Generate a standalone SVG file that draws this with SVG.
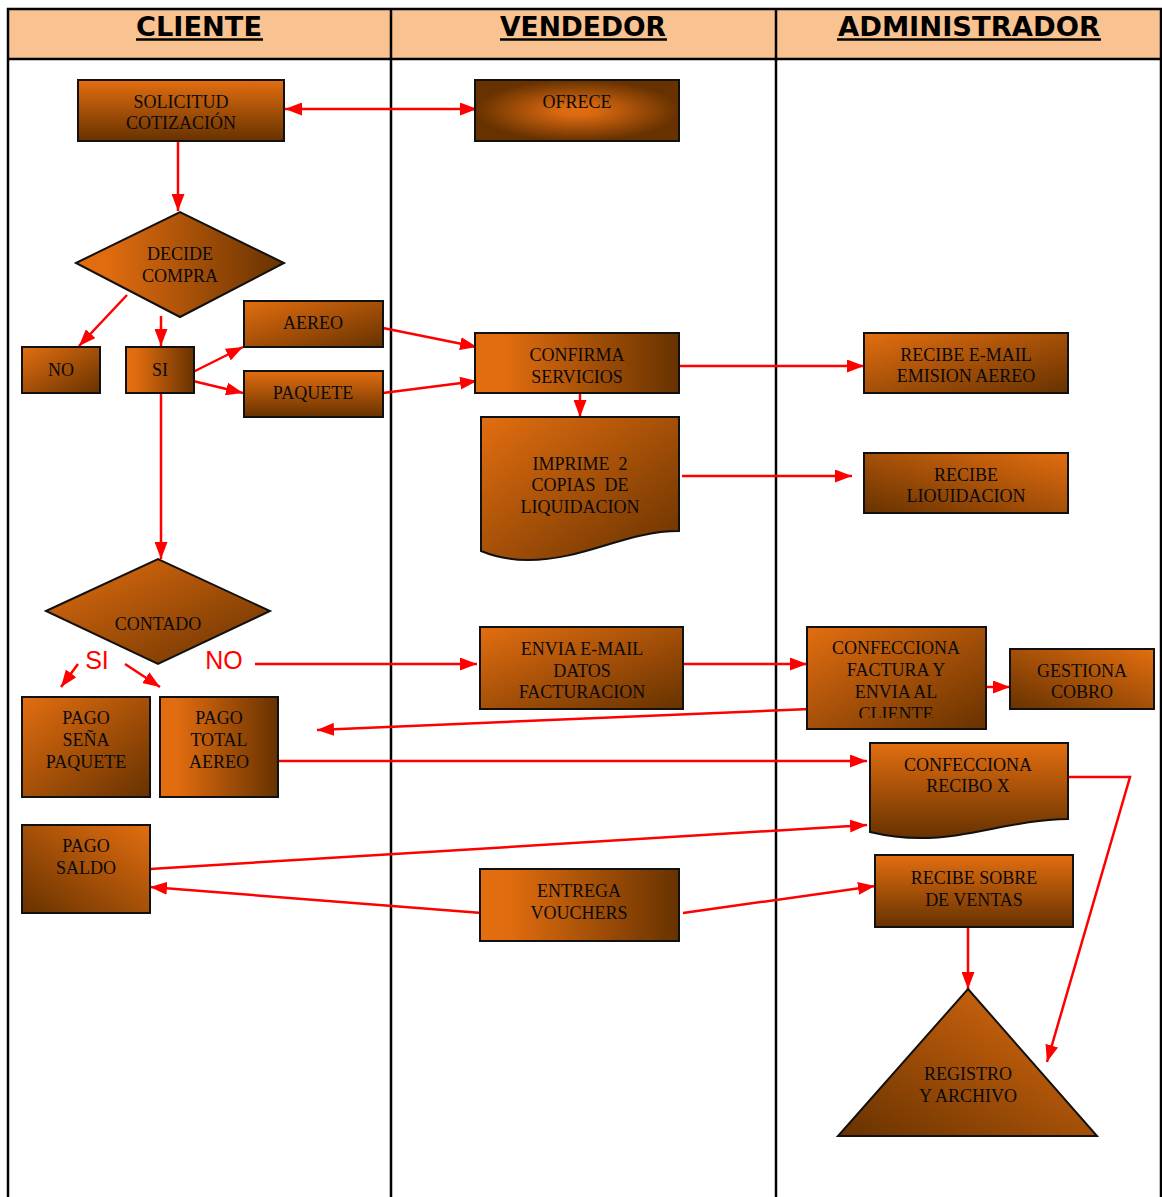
<svg xmlns="http://www.w3.org/2000/svg" width="1162" height="1197" viewBox="0 0 1162 1197">
<style>
.hdr{font-family:"DejaVu Sans",Verdana,sans-serif;font-weight:bold;font-size:27px;fill:#000;text-anchor:middle}
.t{font-family:"Liberation Serif","Times New Roman",serif;font-size:18px;fill:#0a0a0a;text-anchor:middle}
.lbl{font-family:"Liberation Sans",Arial,sans-serif;font-size:25px;fill:#ff0000;text-anchor:middle}
.n{stroke:#111;stroke-width:2}
.c{stroke:#ff0000;stroke-width:2.5;fill:none}
.a{marker-end:url(#ah)}
.b{marker-start:url(#ah);marker-end:url(#ah)}
</style>
<defs>
<linearGradient id="gV" x1="0" y1="0" x2="0" y2="1"><stop offset="0" stop-color="#E36E10"/><stop offset="1" stop-color="#673200"/></linearGradient>
<linearGradient id="gH" x1="0" y1="0" x2="1" y2="0"><stop offset="0" stop-color="#E36E10"/><stop offset="0.15" stop-color="#E06C0F"/><stop offset="1" stop-color="#673200"/></linearGradient>
<linearGradient id="gD" x1="0" y1="0" x2="1" y2="1"><stop offset="0" stop-color="#E36E10"/><stop offset="1" stop-color="#673200"/></linearGradient>
<linearGradient id="gDR" x1="1" y1="0" x2="0" y2="1"><stop offset="0" stop-color="#E36E10"/><stop offset="1" stop-color="#673200"/></linearGradient>
<radialGradient id="gR" cx="0.5" cy="0.5" r="0.5"><stop offset="0" stop-color="#E36E10"/><stop offset="0.2" stop-color="#D86810"/><stop offset="1" stop-color="#673200"/></radialGradient>
<marker id="ah" viewBox="0 0 17 13" refX="17" refY="6.5" markerWidth="17" markerHeight="13" markerUnits="userSpaceOnUse" orient="auto-start-reverse"><path d="M0,0 L17,6.5 L0,13 Z" fill="#ff0000"/></marker>
<clipPath id="clipCF"><rect x="807" y="627" width="179" height="91"/></clipPath>
</defs>

<g id="table">
<rect x="8" y="9" width="1153" height="50" fill="#F8C291"/>
<rect x="8" y="9" width="1153" height="1200" fill="none" stroke="#000" stroke-width="2.5"/>
<line x1="8" y1="59" x2="1161" y2="59" stroke="#000" stroke-width="2.5"/>
<line x1="391" y1="9" x2="391" y2="1197" stroke="#000" stroke-width="2.5"/>
<line x1="776" y1="9" x2="776" y2="1197" stroke="#000" stroke-width="2.5"/>
<text class="hdr" x="199" y="36" textLength="126" lengthAdjust="spacingAndGlyphs">CLIENTE</text>
<line x1="136" y1="39.5" x2="263" y2="39.5" stroke="#000" stroke-width="2.5"/>
<text class="hdr" x="583" y="36" textLength="166" lengthAdjust="spacingAndGlyphs">VENDEDOR</text>
<line x1="500" y1="39.5" x2="667" y2="39.5" stroke="#000" stroke-width="2.5"/>
<text class="hdr" x="969" y="36" textLength="262" lengthAdjust="spacingAndGlyphs">ADMINISTRADOR</text>
<line x1="837" y1="39.5" x2="1101" y2="39.5" stroke="#000" stroke-width="2.5"/>
</g>

<g id="connectors">
<line class="c b" x1="285" y1="109" x2="477" y2="109"/>
<line class="c a" x1="178" y1="141" x2="178" y2="211"/>
<line class="c a" x1="127" y1="295" x2="79" y2="346"/>
<line class="c a" x1="161" y1="316" x2="161" y2="346"/>
<line class="c a" x1="193" y1="372" x2="243" y2="347"/>
<line class="c a" x1="193" y1="381" x2="243" y2="393"/>
<line class="c a" x1="383" y1="328" x2="477" y2="347"/>
<line class="c a" x1="383" y1="393" x2="477" y2="381"/>
<line class="c a" x1="679" y1="366" x2="864" y2="366"/>
<line class="c a" x1="580" y1="393" x2="580" y2="417"/>
<line class="c a" x1="682" y1="476" x2="852" y2="476"/>
<line class="c a" x1="161" y1="393" x2="161" y2="559"/>
<line class="c a" x1="78" y1="664" x2="61" y2="687"/>
<line class="c a" x1="125" y1="664" x2="160" y2="687"/>
<line class="c a" x1="255" y1="664" x2="477" y2="664"/>
<line class="c a" x1="683" y1="664" x2="807" y2="664"/>
<line class="c a" x1="986" y1="687" x2="1010" y2="687"/>
<line class="c a" x1="810" y1="709" x2="317" y2="730"/>
<line class="c a" x1="278" y1="761" x2="867" y2="761"/>
<line class="c a" x1="150" y1="869" x2="867" y2="825"/>
<line class="c a" x1="482" y1="913" x2="150" y2="887"/>
<line class="c a" x1="683" y1="913" x2="875" y2="886"/>
<line class="c a" x1="968" y1="927" x2="968" y2="989"/>
<polyline class="c a" points="1068,777 1130,777 1047,1062"/>
<text class="lbl" x="97" y="669">SI</text>
<text class="lbl" x="224" y="669">NO</text>
</g>

<g id="solicitud">
<rect class="n" x="78" y="80" width="206" height="61" fill="url(#gV)"/>
<text class="t" x="181" y="108">SOLICITUD</text>
<text class="t" x="181" y="129">COTIZACIÓN</text>
</g>
<g id="ofrece">
<rect class="n" x="475" y="80" width="204" height="61" fill="url(#gR)"/>
<text class="t" x="577" y="108">OFRECE</text>
</g>
<g id="decide">
<polygon class="n" points="76,263 180,212 284,263 180,317" fill="url(#gH)"/>
<text class="t" x="180" y="260">DECIDE</text>
<text class="t" x="180" y="282">COMPRA</text>
</g>
<g id="no">
<rect class="n" x="22" y="347" width="78" height="46" fill="url(#gD)"/>
<text class="t" x="61" y="376">NO</text>
</g>
<g id="si">
<rect class="n" x="126" y="347" width="68" height="46" fill="url(#gH)"/>
<text class="t" x="160" y="376">SI</text>
</g>
<g id="aereo">
<rect class="n" x="244" y="301" width="139" height="46" fill="url(#gD)"/>
<text class="t" x="313" y="329">AEREO</text>
</g>
<g id="paquete">
<rect class="n" x="244" y="371" width="139" height="46" fill="url(#gV)"/>
<text class="t" x="313" y="399">PAQUETE</text>
</g>
<g id="confirma">
<rect class="n" x="475" y="333" width="204" height="60" fill="url(#gH)"/>
<text class="t" x="577" y="361">CONFIRMA</text>
<text class="t" x="577" y="383">SERVICIOS</text>
</g>
<g id="imprime">
<path class="n" d="M481,417 H679 V531 C625,531 585,560 528,560 Q503,560 481,551 Z" fill="url(#gD)"/>
<text class="t" x="580" y="470" xml:space="preserve">IMPRIME  2</text>
<text class="t" x="580" y="491" xml:space="preserve">COPIAS  DE</text>
<text class="t" x="580" y="513">LIQUIDACION</text>
</g>
<g id="recibe-email">
<rect class="n" x="864" y="333" width="204" height="60" fill="url(#gD)"/>
<text class="t" x="966" y="361">RECIBE E-MAIL</text>
<text class="t" x="966" y="382">EMISION AEREO</text>
</g>
<g id="recibe-liq">
<rect class="n" x="864" y="453" width="204" height="60" fill="url(#gDR)"/>
<text class="t" x="966" y="481">RECIBE</text>
<text class="t" x="966" y="502">LIOUIDACION</text>
</g>
<g id="contado">
<polygon class="n" points="46,611 158,559 270,611 158,664" fill="url(#gD)"/>
<text class="t" x="158" y="630">CONTADO</text>
</g>
<g id="pago-sena">
<rect class="n" x="22" y="697" width="128" height="100" fill="url(#gD)"/>
<text class="t" x="86" y="724">PAGO</text>
<text class="t" x="86" y="746">SEÑA</text>
<text class="t" x="86" y="768">PAQUETE</text>
</g>
<g id="pago-total">
<rect class="n" x="160" y="697" width="118" height="100" fill="url(#gH)"/>
<text class="t" x="219" y="724">PAGO</text>
<text class="t" x="219" y="746">TOTAL</text>
<text class="t" x="219" y="768">AEREO</text>
</g>
<g id="envia">
<rect class="n" x="480" y="627" width="203" height="82" fill="url(#gD)"/>
<text class="t" x="582" y="655">ENVIA E-MAIL</text>
<text class="t" x="582" y="677">DATOS</text>
<text class="t" x="582" y="698">FACTURACION</text>
</g>
<g id="confecciona-factura">
<rect class="n" x="807" y="627" width="179" height="102" fill="url(#gD)"/>
<g clip-path="url(#clipCF)">
<text class="t" x="896" y="654">CONFECCIONA</text>
<text class="t" x="896" y="676">FACTURA Y</text>
<text class="t" x="896" y="698">ENVIA AL</text>
<text class="t" x="896" y="720">CLIENTE</text>
</g>
</g>
<g id="gestiona">
<rect class="n" x="1010" y="649" width="144" height="60" fill="url(#gDR)"/>
<text class="t" x="1082" y="677">GESTIONA</text>
<text class="t" x="1082" y="698">COBRO</text>
</g>
<g id="recibo-x">
<path class="n" d="M870,743 H1068 V819 C1012,820 972,838 920,838 Q895,838 870,832 Z" fill="url(#gV)"/>
<text class="t" x="968" y="771">CONFECCIONA</text>
<text class="t" x="968" y="792">RECIBO X</text>
</g>
<g id="pago-saldo">
<rect class="n" x="22" y="825" width="128" height="88" fill="url(#gDR)"/>
<text class="t" x="86" y="852">PAGO</text>
<text class="t" x="86" y="874">SALDO</text>
</g>
<g id="entrega">
<rect class="n" x="480" y="869" width="199" height="72" fill="url(#gH)"/>
<text class="t" x="579" y="897">ENTREGA</text>
<text class="t" x="579" y="919">VOUCHERS</text>
</g>
<g id="recibe-sobre">
<rect class="n" x="875" y="855" width="198" height="72" fill="url(#gV)"/>
<text class="t" x="974" y="884">RECIBE SOBRE</text>
<text class="t" x="974" y="906">DE VENTAS</text>
</g>
<g id="registro">
<polygon class="n" points="968,989 1097,1136 838,1136" fill="url(#gDR)"/>
<text class="t" x="968" y="1080">REGISTRO</text>
<text class="t" x="968" y="1102">Y ARCHIVO</text>
</g>
</svg>
